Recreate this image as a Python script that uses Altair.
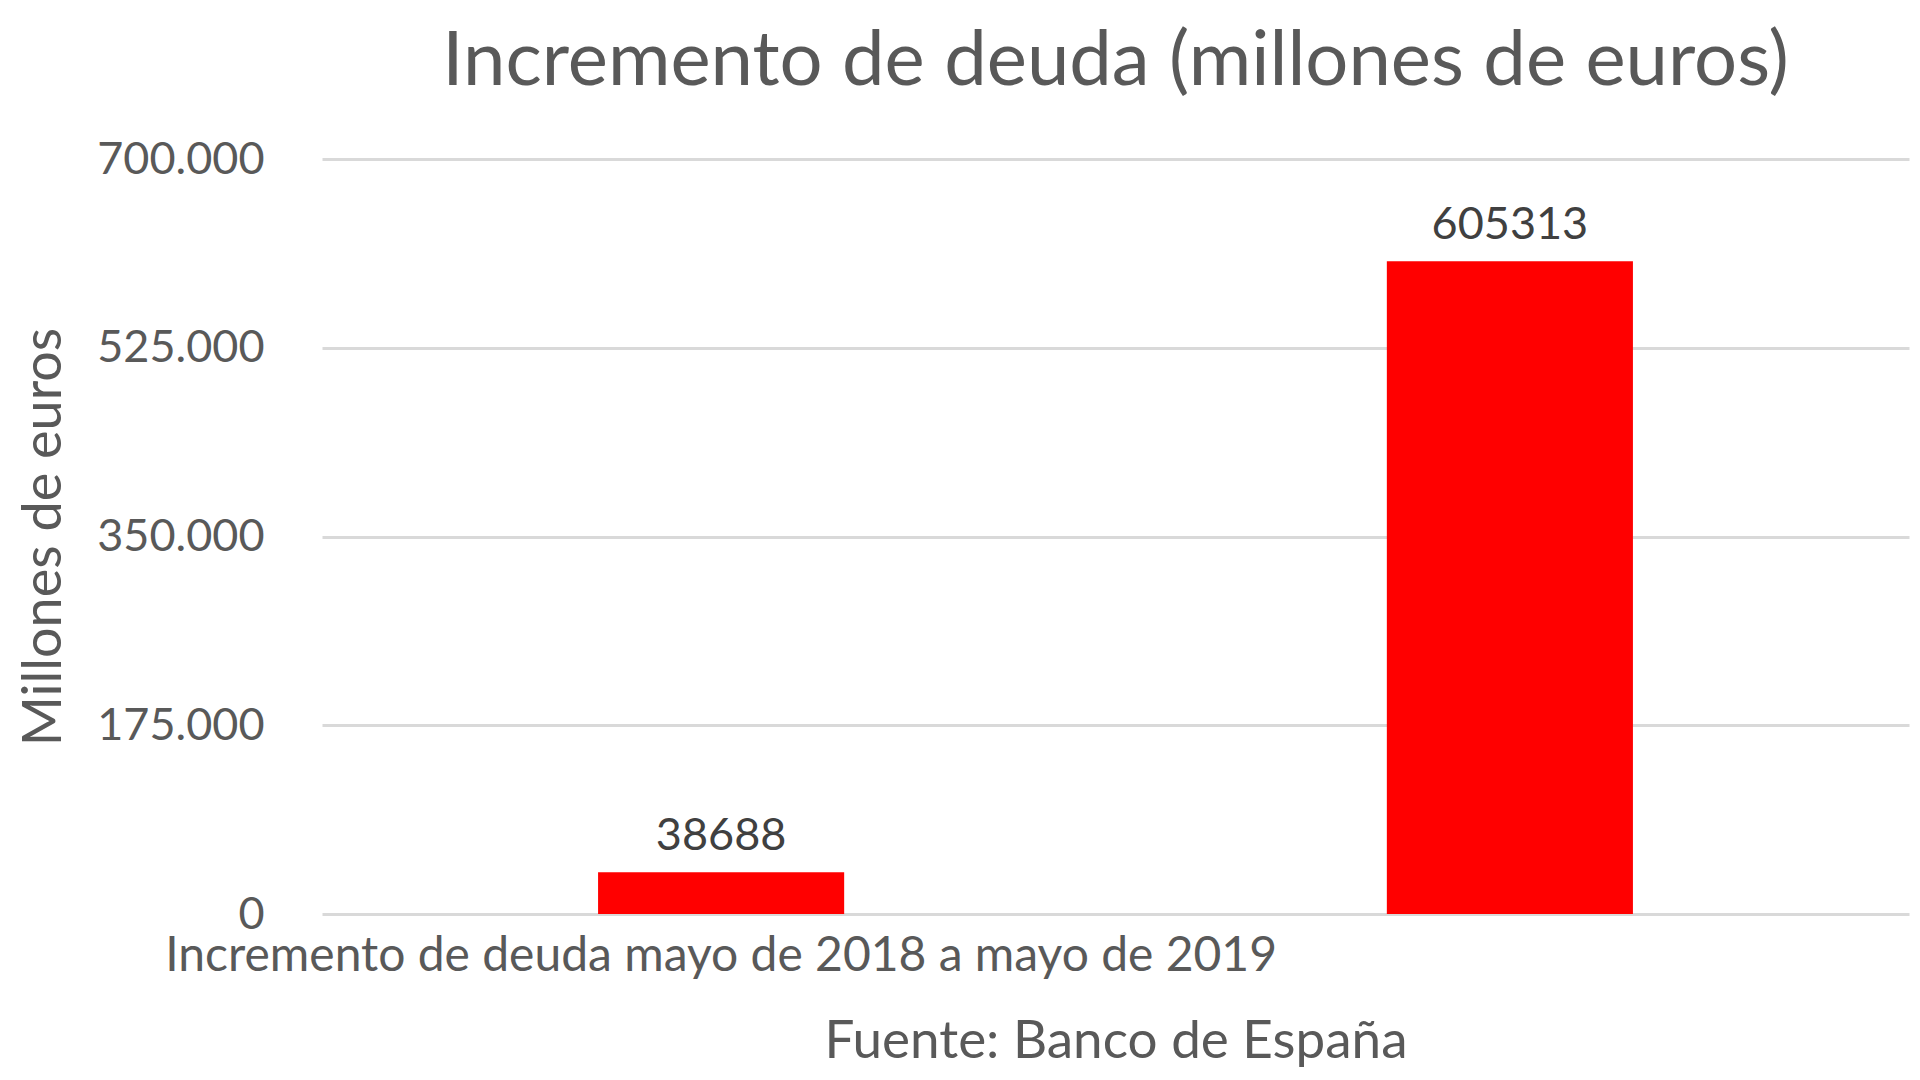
import altair as alt
import pandas as pd

# 資料：兩根長條，第二根沒有類別名稱
categorias = ["Incremento de deuda mayo de 2018 a mayo de 2019", " "]
valores = [38688, 605313]
ticks_y = [0, 175000, 350000, 525000, 700000]

df = pd.DataFrame({"categoria": categorias, "valor": valores})

FONT = "Lato"
GRIS = "#595959"

x_enc = alt.X(
    "categoria:N",
    sort=None,
    scale=alt.Scale(paddingInner=0.688, paddingOuter=0.35),
    axis=alt.Axis(
        title="Fuente: Banco de España",
        labelAngle=0,
        labelFontSize=48,
        labelColor=GRIS,
        labelFont=FONT,
        labelPadding=18,
        labelLimit=2000,
        ticks=False,
        domain=False,
        titleFontSize=53,
        titleFont=FONT,
        titleColor=GRIS,
        titleFontWeight="normal",
        titlePadding=35,
    ),
)
y_enc = alt.Y(
    "valor:Q",
    scale=alt.Scale(domain=[0, 700000]),
    axis=alt.Axis(
        title="Millones de euros",
        values=ticks_y,
        format=",.0f",
        labelFontSize=45,
        labelColor=GRIS,
        labelFont=FONT,
        labelPadding=58,
        ticks=False,
        domain=False,
        gridColor="#D9D9D9",
        gridWidth=3,
        titleFontSize=54,
        titleFont=FONT,
        titleColor=GRIS,
        titleFontWeight="normal",
        titlePadding=51,
    ),
)

bars = alt.Chart(df).mark_bar(color="#FF0000").encode(x=x_enc, y=y_enc)

labels = (
    alt.Chart(df)
    .mark_text(dy=-22, baseline="alphabetic", fontSize=45, font=FONT, color="#404040")
    .encode(x=x_enc, y=y_enc, text=alt.Text("valor:Q", format="d"))
)

chart = (
    alt.layer(bars, labels)
    .properties(
        width=1587,
        height=755,
        padding={"left": 9, "top": 16, "right": 2, "bottom": 5},
        title=alt.TitleParams(
            "Incremento de deuda (millones de euros)",
            fontSize=76,
            font=FONT,
            color=GRIS,
            fontWeight="normal",
            anchor="middle",
            offset=36,
        ),
    )
    .configure_view(stroke=None)
)

chart.save(
    "out.html",
    embed_options={
        "renderer": "svg",
        "actions": False,
        "formatLocale": {
            "decimal": ",",
            "thousands": ".",
            "grouping": [3],
            "currency": ["", " €"],
        },
    },
)
